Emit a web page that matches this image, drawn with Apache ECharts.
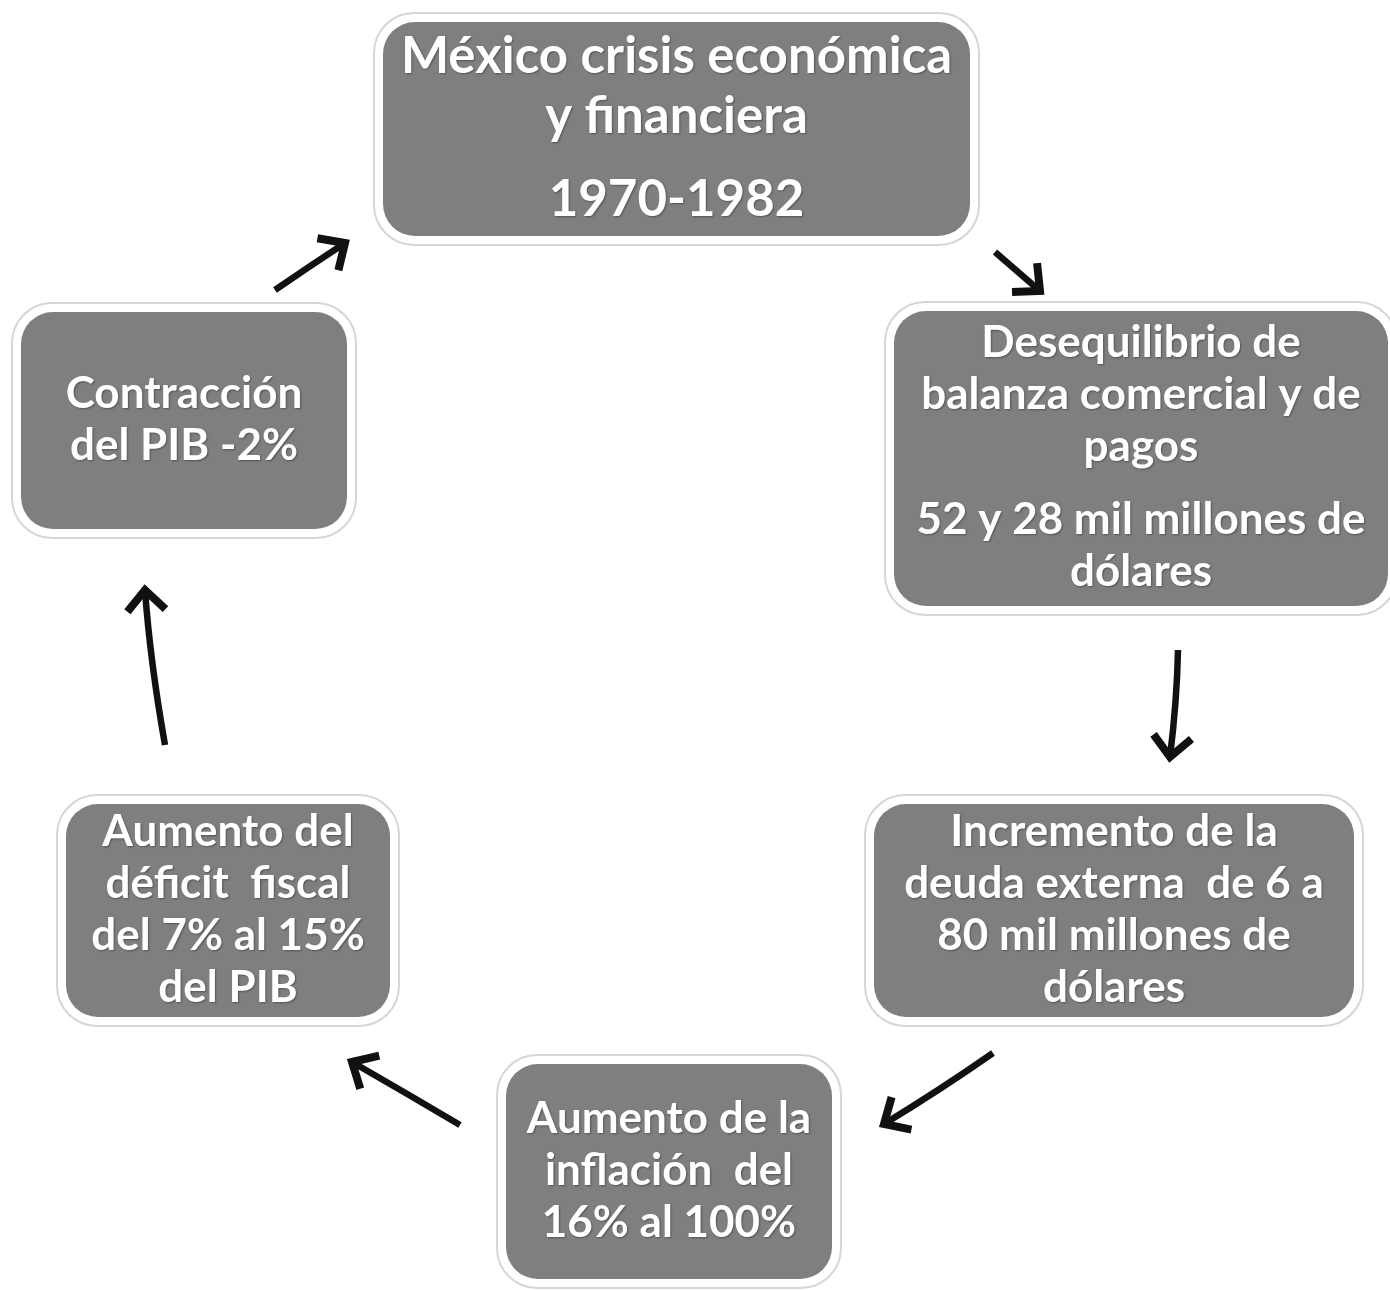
<!DOCTYPE html>
<html>
<head>
<meta charset="utf-8">
<script src="https://cdn.jsdelivr.net/npm/echarts@6/dist/echarts.min.js"></script>
<style>
  html, body { margin: 0; padding: 0; background: #fff; }
  #chart { width: 1390px; height: 1290px; }
</style>
</head>
<body>
<div id="chart"></div>
<script>
// box texts ({g| } marks a paragraph gap)
var boxText = [
  'México crisis económica\ny financiera\n{g| }\n1970-1982',
  'Desequilibrio de\nbalanza comercial y de\npagos\n{g| }\n52 y 28 mil millones de\ndólares',
  'Contracción\ndel PIB -2%',
  'Aumento del\ndéficit  fiscal\ndel 7% al 15%\ndel PIB',
  'Incremento de la\ndeuda externa  de 6 a\n80 mil millones de\ndólares',
  'Aumento de la\ninflación  del\n16% al 100%'
];
// inner grey box extents
var boxLeft = [383, 894, 21, 66, 874, 506];
var boxTop = [22, 311, 312, 804, 804, 1064];
var boxRight = [970, 1388, 347, 390, 1354, 832];
var boxBottom = [236, 606, 529, 1017, 1017, 1279];

// arrows: start, end, control point
var arrowFromX = [995, 1178, 993, 460, 165, 275];
var arrowFromY = [252, 650, 1053, 1125, 745, 290];
var arrowToX = [1040, 1170, 884, 352, 145, 345];
var arrowToY = [291, 757, 1124, 1062, 590, 243];
var arrowCtrlX = [1017, 1177, 940, 406, 150, 310];
var arrowCtrlY = [271, 700, 1090, 1093, 660, 266];

var chart = echarts.init(document.getElementById('chart'));

var boxData = boxText.map(function (t, i) { return [boxLeft[i], boxTop[i], boxRight[i], boxBottom[i], i]; });
var arrowData = arrowFromX.map(function (x, i) {
  return [x, arrowFromY[i], arrowToX[i], arrowToY[i], arrowCtrlX[i], arrowCtrlY[i]];
});

function renderBox(params, api) {
  var p0 = api.coord([api.value(0), api.value(1)]);
  var p1 = api.coord([api.value(2), api.value(3)]);
  var i = api.value(4);
  var big = i === 0;
  var pad = 9;
  return {
    type: 'group',
    children: [
      {
        type: 'rect',
        shape: { x: p0[0] - pad, y: p0[1] - pad, width: p1[0] - p0[0] + pad * 2, height: p1[1] - p0[1] + pad * 2, r: 40 },
        style: { fill: '#fff', stroke: '#d6d6d6', lineWidth: 2 }
      },
      {
        type: 'rect',
        shape: { x: p0[0], y: p0[1], width: p1[0] - p0[0], height: p1[1] - p0[1], r: 32 },
        style: { fill: '#7f7f7f' }
      },
      {
        type: 'text',
        style: {
          text: boxText[i],
          x: (p0[0] + p1[0]) / 2,
          y: (p0[1] + p1[1]) / 2 - 1,
          align: 'center',
          verticalAlign: 'middle',
          fill: '#fff',
          fontFamily: 'Lato',
          fontWeight: 'bold',
          fontSize: big ? 51 : 44,
          lineHeight: big ? 60 : 52,
          textShadowColor: 'rgba(0,0,0,0.35)',
          textShadowBlur: 2,
          textShadowOffsetX: 1,
          textShadowOffsetY: 1,
          rich: { g: { fontSize: 1, lineHeight: big ? 23 : 21 } }
        }
      }
    ]
  };
}

function renderArrow(params, api) {
  var a = api.coord([api.value(0), api.value(1)]);
  var b = api.coord([api.value(2), api.value(3)]);
  var c = api.coord([api.value(4), api.value(5)]);
  var ang = Math.atan2(b[1] - c[1], b[0] - c[0]);
  var len = 28, spread = 0.75;
  var h1 = [b[0] - len * Math.cos(ang - spread), b[1] - len * Math.sin(ang - spread)];
  var h2 = [b[0] - len * Math.cos(ang + spread), b[1] - len * Math.sin(ang + spread)];
  return {
    type: 'group',
    children: [
      {
        type: 'bezierCurve',
        shape: { x1: a[0], y1: a[1], x2: b[0], y2: b[1], cpx1: c[0], cpy1: c[1] },
        style: { stroke: '#111', lineWidth: 6.5, fill: null }
      },
      {
        type: 'polyline',
        shape: { points: [h1, b, h2] },
        style: { stroke: '#111', lineWidth: 8, fill: null, lineJoin: 'miter' }
      }
    ]
  };
}

var option = {
  backgroundColor: '#fff',
  animation: false,
  grid: { left: 0, right: 0, top: 0, bottom: 0 },
  xAxis: { type: 'value', min: 0, max: 1390, show: false },
  yAxis: { type: 'value', min: 0, max: 1290, inverse: true, show: false },
  series: [
    {
      type: 'custom',
      coordinateSystem: 'cartesian2d',
      renderItem: renderArrow,
      data: arrowData,
      silent: true
    },
    {
      type: 'custom',
      coordinateSystem: 'cartesian2d',
      renderItem: renderBox,
      data: boxData,
      silent: true,
      clip: false
    }
  ]
};

chart.setOption(option);
</script>
</body>
</html>
